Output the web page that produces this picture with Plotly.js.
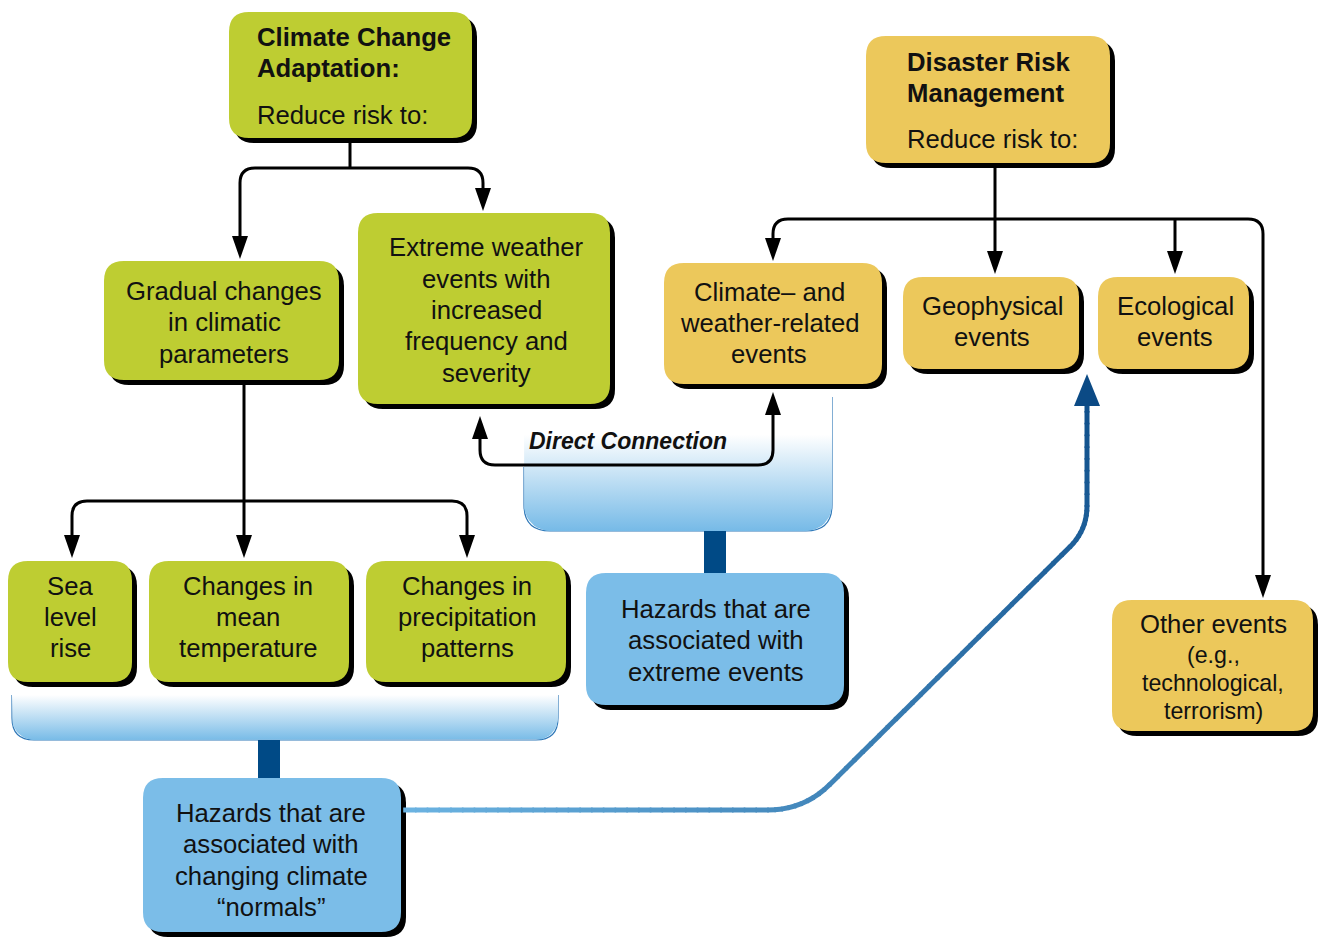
<!DOCTYPE html>
<html><head><meta charset="utf-8">
<script src="https://cdn.plot.ly/plotly-3.0.1.min.js"></script>
<style>html,body{margin:0;padding:0;background:#fff}#chart{width:1319px;height:938px}</style>
</head><body><div id="chart"></div>
<script>
// ---------- text content ----------
const ccaTitle = "Climate Change<br>Adaptation:";
const drmTitle = "Disaster Risk<br>Management";
const reduceLabel = "Reduce risk to:";
const ccaTargets = ["Gradual changes<br>in climatic<br>parameters", "Extreme weather<br>events with<br>increased<br>frequency and<br>severity"];
const gradualItems = ["Sea<br>level<br>rise", "Changes in<br>mean<br>temperature", "Changes in<br>precipitation<br>patterns"];
const drmTargets = ["Climate– and<br>weather-related<br>events", "Geophysical<br>events", "Ecological<br>events"];
const otherEvents = "Other events";
const otherEventsSub = "(e.g.,<br>technological,<br>terrorism)";
const hazardLabels = ["Hazards that are<br>associated with<br>extreme events", "Hazards that are<br>associated with<br>changing climate<br>“normals”"];
const linkLabel = "Direct Connection";

// ---------- styles / geometry ----------
const GREEN = '#BECD32', YELLOW = '#ECC85B', BLUE = '#7BBDE8', DARKBLUE = '#004A86';
const FONT = 'Liberation Sans, Arial, Helvetica, sans-serif';
const FS = 25.7;
const geom = {
  cca: [229, 12, 472, 138], drm: [866, 36, 1110, 163],
  gradual: [104, 261, 339, 380], extreme: [358, 213, 610, 404],
  climw: [664, 263, 882, 384], geo: [903, 277, 1079, 369], eco: [1098, 277, 1249, 369],
  other: [1112, 600, 1313, 731],
  sea: [8, 561, 132, 682], temp: [149, 561, 349, 682], precip: [366, 561, 566, 682],
  hazExt: [586, 573, 844, 705], hazNorm: [143, 778, 401, 932]
};

const shapes = [], annotations = [], traces = [];

function rr(x0, y0, x1, y1, r) {
  return `M${x0 + r},${y0} L${x1 - r},${y0} Q${x1},${y0} ${x1},${y0 + r} L${x1},${y1 - r} Q${x1},${y1} ${x1 - r},${y1} L${x0 + r},${y1} Q${x0},${y1} ${x0},${y1 - r} L${x0},${y0 + r} Q${x0},${y0} ${x0 + r},${y0} Z`;
}
function box(key, color) {
  const [x0, y0, x1, y1] = geom[key];
  shapes.push({type: 'path', path: rr(x0 + 5, y0 + 5, x1 + 5, y1 + 5, 20), fillcolor: '#000', line: {width: 0}, layer: 'above'});
  shapes.push({type: 'path', path: rr(x0, y0, x1, y1, 20), fillcolor: color, line: {width: 0}, layer: 'above'});
}
function textLines(label, cx, cy, size, spacing, opts) {
  opts = opts || {};
  const lines = label.split('<br>');
  const n = lines.length;
  lines.forEach((t, i) => {
    annotations.push({
      x: cx, y: cy + (i - (n - 1) / 2) * spacing, xref: 'x', yref: 'y',
      text: opts.bold ? '<b>' + t + '</b>' : t, showarrow: false,
      xanchor: opts.anchor || 'center', yanchor: 'middle',
      font: {family: FONT, size: size, color: '#111'}
    });
  });
}
function rpath(pts, r) {
  let d = `M${pts[0][0]},${pts[0][1]}`;
  for (let i = 1; i < pts.length - 1; i++) {
    const [ax, ay] = pts[i - 1], [cx, cy] = pts[i], [bx, by] = pts[i + 1];
    const l1 = Math.hypot(cx - ax, cy - ay), l2 = Math.hypot(bx - cx, by - cy);
    const p1 = [cx - r * (cx - ax) / l1, cy - r * (cy - ay) / l1];
    const p2 = [cx + r * (bx - cx) / l2, cy + r * (by - cy) / l2];
    d += ` L${p1[0]},${p1[1]} Q${cx},${cy} ${p2[0]},${p2[1]}`;
  }
  const last = pts[pts.length - 1];
  d += ` L${last[0]},${last[1]}`;
  return d;
}
function line(pts, color, width) {
  shapes.push({type: 'path', path: rpath(pts, 15), line: {color: color || '#000', width: width || 3}, fillcolor: 'rgba(0,0,0,0)', layer: 'above'});
}
function arrowHead(x, tip, dir, color, len, hw) {
  len = len || 23; hw = hw || 8;
  const b = dir === 'down' ? tip - len : tip + len;
  shapes.push({type: 'path', path: `M${x},${tip} L${x - hw},${b} L${x + hw},${b} Z`, fillcolor: color || '#000', line: {width: 0}, layer: 'above'});
}

// ---------- brackets (gradient) ----------
function bracket(x0, y0, x1, y1, r, cs, leftStart) {
  const xs = [], ys = [];
  xs.push(x0); ys.push(y0);
  for (let k = 0; k <= 12; k++) { const a = Math.PI - k * Math.PI / 24; xs.push(x0 + r + r * Math.cos(a)); ys.push(y1 - r + r * Math.sin(a)); }
  for (let k = 0; k <= 12; k++) { const a = Math.PI / 2 - k * Math.PI / 24; xs.push(x1 - r + r * Math.cos(a)); ys.push(y1 - r + r * Math.sin(a)); }
  xs.push(x1); ys.push(y0); xs.push(x0); ys.push(y0);
  traces.push({type: 'scatter', mode: 'lines', x: xs, y: ys, fill: 'toself', line: {width: 0, color: 'rgba(0,0,0,0)'},
    fillgradient: {type: 'vertical', start: y0, stop: y1, colorscale: cs}, hoverinfo: 'skip', showlegend: false});
  shapes.push({type: 'path', layer: 'below', fillcolor: 'rgba(0,0,0,0)', line: {color: '#2F78B8', width: 1.2},
    path: `M${x0},${leftStart} L${x0},${y1 - r} Q${x0},${y1} ${x0 + r},${y1} L${x1 - r},${y1} Q${x1},${y1} ${x1},${y1 - r} L${x1},${y0}`});
}
bracket(12, 695, 558, 740, 22, [[0, '#ffffff'], [1, '#78BBE7']], 695);
bracket(524, 397, 832, 531, 26, [[0, '#ffffff'], [0.28, '#ffffff'], [1, '#76BAE7']], 467);
// stems
shapes.push({type: 'rect', x0: 258, x1: 280, y0: 740, y1: 780, fillcolor: DARKBLUE, line: {width: 0}, layer: 'above'});
shapes.push({type: 'rect', x0: 704, x1: 726, y0: 531, y1: 575, fillcolor: DARKBLUE, line: {width: 0}, layer: 'above'});

// ---------- boxes ----------
box('cca', GREEN); box('drm', YELLOW);
box('gradual', GREEN); box('extreme', GREEN);
box('climw', YELLOW); box('geo', YELLOW); box('eco', YELLOW); box('other', YELLOW);
box('sea', GREEN); box('temp', GREEN); box('precip', GREEN);
box('hazExt', BLUE); box('hazNorm', BLUE);

// ---------- connectors ----------
line([[350, 140], [350, 168]]);
line([[240, 238], [240, 168], [483, 168], [483, 190]]);
arrowHead(240, 259, 'down'); arrowHead(483, 211, 'down');

line([[244, 382], [244, 537]]); arrowHead(244, 558, 'down');
line([[72, 537], [72, 501], [467, 501], [467, 537]]);
arrowHead(72, 558, 'down'); arrowHead(467, 558, 'down');

line([[995, 165], [995, 252]]); arrowHead(995, 274, 'down');
line([[773, 240], [773, 219], [1263, 219], [1263, 577]]);
arrowHead(773, 261, 'down'); arrowHead(1263, 598, 'down');
line([[1175, 219], [1175, 253]]); arrowHead(1175, 274, 'down');

line([[480, 437], [480, 465], [773, 465], [773, 413]]);
arrowHead(480, 416, 'up'); arrowHead(773, 392, 'up');

// blue gradient connector
(function () {
  const wp = [[404, 810], [804, 810], [1087, 530], [1087, 400]];
  const radii = [0, 36, 24];
  const pts = [wp[0]];
  for (let i = 1; i < wp.length - 1; i++) {
    const r = radii[i];
    const [ax, ay] = wp[i - 1], [cx, cy] = wp[i], [bx, by] = wp[i + 1];
    const l1 = Math.hypot(cx - ax, cy - ay), l2 = Math.hypot(bx - cx, by - cy);
    const p1 = [cx - r * (cx - ax) / l1, cy - r * (cy - ay) / l1];
    const p2 = [cx + r * (bx - cx) / l2, cy + r * (by - cy) / l2];
    pts.push(p1);
    for (let k = 1; k <= 10; k++) { const t = k / 10; pts.push([(1 - t) * (1 - t) * p1[0] + 2 * t * (1 - t) * cx + t * t * p2[0], (1 - t) * (1 - t) * p1[1] + 2 * t * (1 - t) * cy + t * t * p2[1]]); }
  }
  pts.push(wp[wp.length - 1]);
  const dense = [pts[0]];
  for (let i = 1; i < pts.length; i++) {
    const [x0, y0] = pts[i - 1], [x1, y1] = pts[i];
    const n = Math.max(1, Math.ceil(Math.hypot(x1 - x0, y1 - y0) / 12));
    for (let k = 1; k <= n; k++) dense.push([x0 + (x1 - x0) * k / n, y0 + (y1 - y0) * k / n]);
  }
  let total = 0; const cum = [0];
  for (let i = 1; i < dense.length; i++) { total += Math.hypot(dense[i][0] - dense[i - 1][0], dense[i][1] - dense[i - 1][1]); cum.push(total); }
  const c0 = [108, 180, 226], c1 = [16, 80, 140];
  for (let i = 1; i < dense.length; i++) {
    const t = cum[i] / total;
    const c = c0.map((v, j) => Math.round(v + (c1[j] - v) * t));
    const [x0, y0] = dense[i - 1], [x1, y1] = dense[i];
    const dx = x1 - x0, dy = y1 - y0, l = Math.hypot(dx, dy) || 1;
    shapes.push({type: 'line', x0: x0 - dx / l * 0.8, y0: y0 - dy / l * 0.8, x1: x1 + dx / l * 0.8, y1: y1 + dy / l * 0.8,
      line: {color: `rgb(${c.join(',')})`, width: 5}, layer: 'above'});
  }
  arrowHead(1087, 374, 'up', '#0B4A85', 32, 13);
})();

// ---------- texts ----------
textLines(ccaTitle, 255, 52.5, FS, 31, {bold: true, anchor: 'left'});
textLines(reduceLabel, 255, 115, FS, 31, {anchor: 'left'});
textLines(drmTitle, 905, 77, FS, 31, {bold: true, anchor: 'left'});
textLines(reduceLabel, 905, 139, FS, 31, {anchor: 'left'});
textLines(ccaTargets[0], 224, 322, FS, 31.5);
textLines(ccaTargets[1], 486, 310, FS, 31.3);
textLines(gradualItems[0], 70, 617, FS, 31);
textLines(gradualItems[1], 248, 617, FS, 31);
textLines(gradualItems[2], 467, 617, FS, 31);
textLines(drmTargets[0], 769, 323, FS, 31);
textLines(drmTargets[1], 992, 321.5, FS, 31);
textLines(drmTargets[2], 1175, 321.5, FS, 31);
textLines(otherEvents, 1213, 624, FS, 31);
textLines(otherEventsSub, 1213, 683, 23.2, 28);
textLines(hazardLabels[0], 716, 640, FS, 31.5);
textLines(hazardLabels[1], 271, 860, FS, 31.3);
annotations.push({x: 628, y: 441, xref: 'x', yref: 'y', text: '<b><i>' + linkLabel + '</i></b>', showarrow: false,
  xanchor: 'center', yanchor: 'middle', font: {family: FONT, size: 23, color: '#111'}});

const layout = {
  width: 1319, height: 938, margin: {l: 0, r: 0, t: 0, b: 0},
  paper_bgcolor: '#fff', plot_bgcolor: '#fff', showlegend: false,
  xaxis: {range: [0, 1319], visible: false, fixedrange: true},
  yaxis: {range: [938, 0], visible: false, fixedrange: true},
  shapes: shapes, annotations: annotations
};
Plotly.newPlot('chart', traces, layout, {staticPlot: true, displayModeBar: false});
</script>
</body></html>
